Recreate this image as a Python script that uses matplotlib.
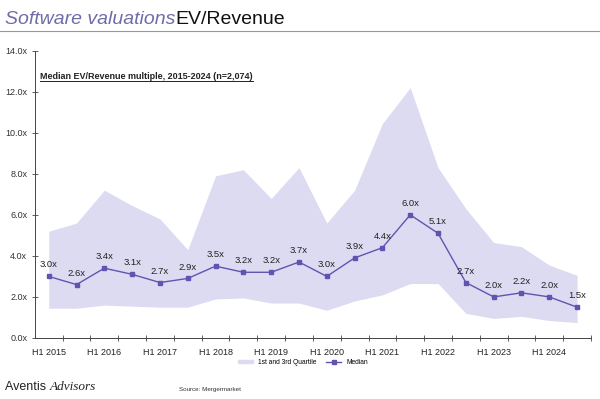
import matplotlib
matplotlib.use("Agg")
import matplotlib.pyplot as plt
import numpy as np
from matplotlib.patches import Patch
from matplotlib.lines import Line2D

plt.rcParams['font.family'] = ['Liberation Sans', 'DejaVu Sans']

# half-year periods H1 2015 .. H2 2024
periods = [f"{h} {y}" for y in range(2015, 2025) for h in ("H1", "H2")]
median = [3.0, 2.6, 3.4, 3.1, 2.7, 2.9, 3.5, 3.2, 3.2, 3.7,
          3.0, 3.9, 4.4, 6.0, 5.1, 2.7, 2.0, 2.2, 2.0, 1.5]
q3 = [5.2, 5.6, 7.2, 6.45, 5.8, 4.3, 7.9, 8.2, 6.8, 8.3,
      5.6, 7.2, 10.45, 12.2, 8.3, 6.3, 4.65, 4.45, 3.55, 3.05]
q1 = [1.45, 1.45, 1.6, 1.55, 1.5, 1.5, 1.9, 1.95, 1.7, 1.7,
      1.35, 1.8, 2.1, 2.65, 2.65, 1.2, 0.95, 1.05, 0.85, 0.75]
year_labels = [f"H1 {y}" for y in range(2015, 2025)]

purple = '#5f55b0'
fill_col = '#dddbf1'

fig = plt.figure(figsize=(6, 3.99), dpi=100)
ax = fig.add_axes([0.058, 0.153, 0.927, 0.72])

x = np.arange(len(periods))
ax.fill_between(x, q1, q3, color=fill_col, lw=0, zorder=1)
ax.plot(x, median, color=purple, lw=1.0, marker='s', ms=3, zorder=3)
for xi, v in zip(x, median):
    ax.annotate(f"{v:.1f}x", (xi, v), xytext=(0, 5), textcoords='offset points',
                ha='center', va='bottom', fontsize=6.8, color='#222222', zorder=4)

ax.set_xlim(-0.5, len(periods) - 0.5)
ax.set_ylim(0, 14)
ax.set_yticks(np.arange(0, 14.1, 2))
ax.set_yticklabels([f"{v:.1f}x" for v in np.arange(0, 14.1, 2)], fontsize=6.5, color='#333333')

ax.set_xticks(np.arange(0.5, len(periods), 1))
ax.set_xticklabels([])
ax.set_xticks(np.arange(0, len(periods), 2), minor=True)
ax.set_xticklabels(year_labels, minor=True, fontsize=6.5, color='#222222')
ax.tick_params(axis='x', which='minor', length=0, pad=7)
ax.tick_params(axis='x', which='major', direction='inout', length=5, width=0.6, color='#444444')
ax.tick_params(axis='y', direction='inout', length=5, width=0.6, color='#444444', pad=3)

for s in ('top', 'right'):
    ax.spines[s].set_visible(False)
for s in ('left', 'bottom'):
    ax.spines[s].set_color('#444444')
    ax.spines[s].set_linewidth(0.7)

# subtitle (underlined)
sub = ax.text(0.01, 0.91, "Median EV/Revenue multiple, 2015-2024 (n=2,074)", transform=ax.transAxes,
              fontsize=6.5, fontweight='bold', color='#222222', ha='left', va='center')
fig.canvas.draw()
sb = sub.get_window_extent()
W, H = fig.bbox.width, fig.bbox.height
fig.add_artist(Line2D([sb.x0 / W, sb.x1 / W], [(sb.y0 + 0.5) / H] * 2, color='#222222', lw=0.7))

# legend
handles = [Patch(color=fill_col, label='1st and 3rd Quartile'),
           Line2D([0], [0], color=purple, lw=1, marker='s', ms=2.5, label='Median')]
fig.legend(handles=handles, loc='center', bbox_to_anchor=(0.505, 0.092), ncol=2,
           frameon=False, fontsize=4.8, handlelength=2.2, handleheight=0.5, columnspacing=1.5)

# title
t1 = fig.text(0.008, 0.95, "Software valuations", fontsize=14, style='italic',
              color='#6f6ca8', ha='left', va='center')
fig.canvas.draw()
bb = t1.get_window_extent()
fig.text(bb.x1 / W, 0.95, "EV/Revenue", fontsize=14, color='#111111',
         ha='left', va='center')
fig.add_artist(Line2D([0, 1], [0.922, 0.922], color='#999999', lw=0.8))

# footer
t2 = fig.text(0.008, 0.03, "Aventis ", fontsize=9, color='#222222', ha='left', va='center')
fig.canvas.draw()
bb2 = t2.get_window_extent()
fig.text(bb2.x1 / W, 0.03, "Advisors", fontsize=9.5, style='italic',
         family='Liberation Serif', color='#222222', ha='left', va='center')
fig.text(0.298, 0.024, "Source: Mergermarket", fontsize=4.5, color='#333333', ha='left', va='center')

fig.savefig('out.png', dpi=100)
